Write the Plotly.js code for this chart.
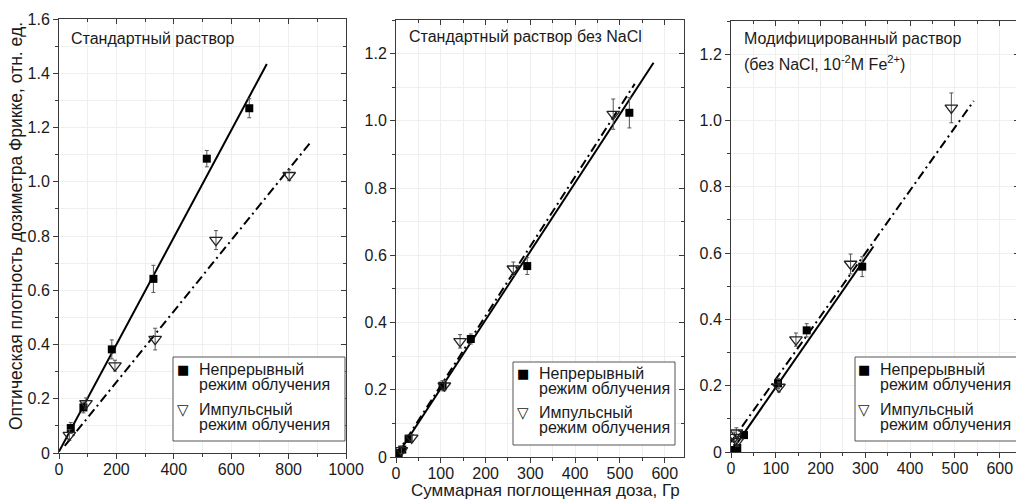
<!DOCTYPE html>
<html>
<head>
<meta charset="utf-8">
<script src="https://cdn.plot.ly/plotly-3.0.1.min.js"></script>
<style>
html,body{margin:0;padding:0;overflow:hidden;background:#fff;}
#chart{width:1024px;height:500px;}
</style>
</head>
<body>
<div id="chart"></div>
<script>
// ---------- data ----------
const legendContLines = ["Непрерывный", "режим облучения"];
const legendPulsLines = ["Импульсный", "режим облучения"];
const legendSymbols = ["■", "▽"];
const panelTitles = ["Стандартный раствор", "Стандартный раствор без NaCl", "Модифицированный раствор", "(без NaCl, 10<sup>-2</sup>M Fe<sup>2+</sup>)"];
const xTitle = "Суммарная поглощенная доза, Гр";
const yTitle = "Оптическая плотность дозиметра Фрикке, отн. ед.";

// Panel 1: standard solution
const p1ContX = [41, 85, 184, 329, 515, 663];
const p1ContY = [0.092, 0.168, 0.382, 0.642, 1.085, 1.271];
const p1ContErr = [0.02, 0.02, 0.035, 0.05, 0.03, 0.035];
const p1PulsX = [36, 94, 195, 335, 547, 802];
const p1PulsY = [0.066, 0.183, 0.322, 0.42, 0.785, 1.024];
const p1PulsErr = [0.02, 0.02, 0.02, 0.04, 0.035, 0.02];
const p1FitContX = [0, 724];
const p1FitContY = [0.005, 1.434];
const p1FitPulsX = [20, 880];
const p1FitPulsY = [0.026, 1.15];

// Panel 2: standard solution without NaCl
const p2ContX = [6, 14, 28, 104, 167, 293, 521];
const p2ContY = [0.012, 0.022, 0.054, 0.212, 0.351, 0.568, 1.024];
const p2ContErr = [0.01, 0.01, 0.01, 0.015, 0.015, 0.025, 0.045];
const p2PulsX = [12, 35, 108, 143, 262, 485];
const p2PulsY = [0.02, 0.057, 0.212, 0.344, 0.56, 1.02];
const p2PulsErr = [0.01, 0.01, 0.015, 0.02, 0.02, 0.045];
const p2FitContX = [0, 575];
const p2FitContY = [0.0, 1.173];
const p2FitPulsX = [0, 533];
const p2FitPulsY = [0.005, 1.11];

// Panel 3: modified solution
const p3ContX = [9, 14, 29, 105, 169, 293];
const p3ContY = [0.006, 0.012, 0.051, 0.207, 0.367, 0.559];
const p3ContErr = [0.01, 0.01, 0.01, 0.015, 0.02, 0.03];
const p3PulsX = [8, 12, 14, 107, 145, 267, 492];
const p3PulsY = [0.045, 0.058, 0.032, 0.196, 0.339, 0.567, 1.038];
const p3PulsErr = [0.015, 0.015, 0.015, 0.015, 0.02, 0.03, 0.045];
const p3FitContX = [0, 318];
const p3FitContY = [0.0, 0.62];
const p3FitPulsX = [0, 542];
const p3FitPulsY = [0.03, 1.059];

// ticks
const x1Ticks = [0, 200, 400, 600, 800, 1000];
const x23Ticks = [0, 100, 200, 300, 400, 500, 600];
const y1Ticks = [0, 0.2, 0.4, 0.6, 0.8, 1.0, 1.2, 1.4, 1.6];
const y1TickText = ["0", "0.2", "0.4", "0.6", "0.8", "1.0", "1.2", "1.4", "1.6"];
const y23Ticks = [0, 0.2, 0.4, 0.6, 0.8, 1.0, 1.2];
const y23TickText = ["0", "0.2", "0.4", "0.6", "0.8", "1.0", "1.2"];

// ---------- style ----------
const FONT = "Liberation Sans, Arial, sans-serif";
const TXT = "#1a1a1a";
const LINE = "#3a3a3a";
const GRID = "#efefef";
const W = 1024, H = 500;
const px = v => v / W;
const py = v => (H - v) / H;

function pts(x, y, err, xa, ya, cont) {
  return {
    type: "scatter", mode: "markers", x: x, y: y, xaxis: xa, yaxis: ya, showlegend: false,
    marker: cont ? {symbol: "square", size: 8, color: "#000"}
                 : {symbol: "triangle-down-open", size: 11, color: "#222", line: {width: 1.3, color: "#222"}},
    error_y: {type: "data", array: err, visible: true, color: "#555", thickness: 1, width: 2}
  };
}
function fit(x, y, xa, ya, dash) {
  return {
    type: "scatter", mode: "lines", x: x, y: y, xaxis: xa, yaxis: ya, showlegend: false, hoverinfo: "skip",
    line: {color: "#000", width: 2, dash: dash}
  };
}
const DASHDOT = "9px,4px,2px,4px";

const traces = [
  fit(p1FitContX, p1FitContY, "x", "y", "solid"),
  fit(p1FitPulsX, p1FitPulsY, "x", "y", DASHDOT),
  pts(p1ContX, p1ContY, p1ContErr, "x", "y", true),
  pts(p1PulsX, p1PulsY, p1PulsErr, "x", "y", false),
  fit(p2FitContX, p2FitContY, "x2", "y2", "solid"),
  fit(p2FitPulsX, p2FitPulsY, "x2", "y2", DASHDOT),
  pts(p2ContX, p2ContY, p2ContErr, "x2", "y2", true),
  pts(p2PulsX, p2PulsY, p2PulsErr, "x2", "y2", false),
  fit(p3FitContX, p3FitContY, "x3", "y3", "solid"),
  fit(p3FitPulsX, p3FitPulsY, "x3", "y3", DASHDOT),
  pts(p3ContX, p3ContY, p3ContErr, "x3", "y3", true),
  pts(p3PulsX, p3PulsY, p3PulsErr, "x3", "y3", false),
  // empty traces so the mirrored (inner-tick) axes are drawn
  {type: "scatter", x: [], y: [], xaxis: "x4", yaxis: "y4", showlegend: false},
  {type: "scatter", x: [], y: [], xaxis: "x5", yaxis: "y5", showlegend: false},
  {type: "scatter", x: [], y: [], xaxis: "x6", yaxis: "y6", showlegend: false}
];

function xMain(domain, range, ticks, minorD, anchor) {
  return {
    domain: domain, range: range, anchor: anchor, showline: true, linecolor: LINE, linewidth: 1, mirror: true,
    tickmode: "array", tickvals: ticks, ticks: "outside", ticklen: 5, tickcolor: LINE,
    tickfont: {family: FONT, size: 16, color: TXT}, ticklabelstandoff: -3,
    showgrid: true, gridcolor: GRID, zeroline: false,
    minor: {dtick: minorD, tick0: 0, ticks: "outside", ticklen: 3, tickcolor: LINE, showgrid: true, gridcolor: GRID}
  };
}
function yMain(domain, range, ticks, text, anchor) {
  return {
    domain: domain, range: range, anchor: anchor, showline: true, linecolor: LINE, linewidth: 1, mirror: true,
    tickmode: "array", tickvals: ticks, ticktext: text, ticks: "outside", ticklen: 5, tickcolor: LINE,
    tickfont: {family: FONT, size: 16, color: TXT},
    showgrid: true, gridcolor: GRID, zeroline: false,
    minor: {dtick: 0.1, tick0: 0, ticks: "outside", ticklen: 3, tickcolor: LINE, showgrid: true, gridcolor: GRID}
  };
}
function xTop(over, range, dtick, minorD, anchor) {
  return {overlaying: over, side: "top", anchor: anchor, range: range, showticklabels: false, showline: false,
    showgrid: false, zeroline: false, tickmode: "linear", tick0: 0, dtick: dtick, ticks: "inside", ticklen: 5, tickcolor: LINE,
    minor: {dtick: minorD, tick0: 0, ticks: "inside", ticklen: 3, tickcolor: LINE}};
}
function yRight(over, range, anchor) {
  return {overlaying: over, side: "right", anchor: anchor, range: range, showticklabels: false, showline: false,
    showgrid: false, zeroline: false, tickmode: "linear", tick0: 0, dtick: 0.2, ticks: "inside", ticklen: 5, tickcolor: LINE,
    minor: {dtick: 0.1, tick0: 0, ticks: "inside", ticklen: 3, tickcolor: LINE}};
}

const X1 = [0, 1000], X23 = [0, 643], Y1 = [0, 1.6], Y23 = [0, 1.3];

function note(text, x, y, opts) {
  return Object.assign({text: text, x: x, y: y, xref: "paper", yref: "paper", showarrow: false,
    xanchor: "left", yanchor: "middle", font: {family: FONT, size: 16, color: TXT}}, opts || {});
}

// legend block: box (left, top, right, bottom), symbol x, text x, 4 line centres
const legendBlocks = [
  {box: [173, 357, 345, 441], sx: 183, tx: 197, lines: [369, 384, 409, 424]},
  {box: [513, 362, 675, 445], sx: 523, tx: 537, lines: [373, 388, 412, 427]},
  {box: [855, 357, 1040, 441], sx: 864, tx: 878, lines: [369, 384, 409, 424]}
];
const shapes = [];
const annotations = [
  note(panelTitles[0], px(69), py(39)),
  note(panelTitles[1], px(407), py(37)),
  note(panelTitles[2], px(742), py(39)),
  note(panelTitles[3], px(742), py(63)),
  note(xTitle, px(545), py(490.5), {xanchor: "center", font: {family: FONT, size: 17, color: TXT}}),
  note(yTitle, px(16), py(226), {xanchor: "center", textangle: -90, font: {family: FONT, size: 17.5, color: TXT}})
];
legendBlocks.forEach(b => {
  shapes.push({type: "rect", xref: "paper", yref: "paper", x0: px(b.box[0]), x1: px(b.box[2]),
    y0: py(b.box[3]), y1: py(b.box[1]), line: {color: "#555", width: 1}, fillcolor: "#fff", layer: "above"});
  annotations.push(note(legendSymbols[0], px(b.sx), py(b.lines[0]), {xanchor: "center", font: {family: "DejaVu Sans", size: 13, color: "#000"}}));
  annotations.push(note(legendSymbols[1], px(b.sx), py(b.lines[2] + 1), {xanchor: "center", font: {family: "DejaVu Sans", size: 15, color: "#222"}}));
  annotations.push(note(legendContLines[0], px(b.tx), py(b.lines[0])));
  annotations.push(note(legendContLines[1], px(b.tx), py(b.lines[1])));
  annotations.push(note(legendPulsLines[0], px(b.tx), py(b.lines[2])));
  annotations.push(note(legendPulsLines[1], px(b.tx), py(b.lines[3])));
});

const layout = {
  width: W, height: H, margin: {l: 0, r: 0, t: 0, b: 0, pad: 0},
  paper_bgcolor: "#fff", plot_bgcolor: "#fff", showlegend: false,
  xaxis: xMain([px(59), px(346)], X1, x1Ticks, 100, "y"),
  yaxis: yMain([py(453), py(19)], Y1, y1Ticks, y1TickText, "x"),
  xaxis2: xMain([px(396), px(684)], X23, x23Ticks, 50, "y2"),
  yaxis2: yMain([py(457), py(20)], Y23, y23Ticks, y23TickText, "x2"),
  xaxis3: xMain([px(731), px(1019)], X23, x23Ticks, 50, "y3"),
  yaxis3: yMain([py(452), py(21)], Y23, y23Ticks, y23TickText, "x3"),
  xaxis4: xTop("x", X1, 200, 100, "y4"),
  yaxis4: yRight("y", Y1, "x4"),
  xaxis5: xTop("x2", X23, 100, 50, "y5"),
  yaxis5: yRight("y2", Y23, "x5"),
  xaxis6: xTop("x3", X23, 100, 50, "y6"),
  yaxis6: yRight("y3", Y23, "x6"),
  shapes: shapes,
  annotations: annotations
};

Plotly.newPlot("chart", traces, layout, {displayModeBar: false, staticPlot: true});
</script>
</body>
</html>
